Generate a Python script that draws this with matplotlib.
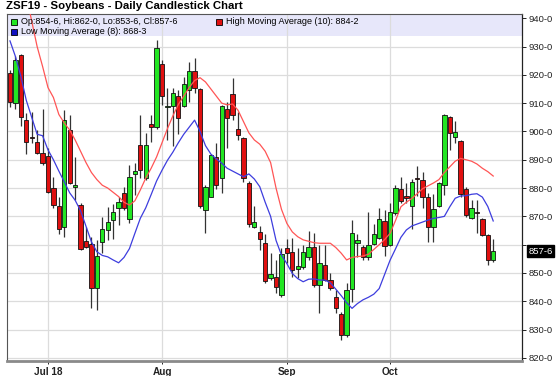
import numpy as np
import matplotlib.pyplot as plt
from matplotlib.lines import Line2D
import matplotlib.transforms as mtransforms

plt.rcParams['font.family'] = ['Liberation Sans', 'DejaVu Sans']

title = "ZSF19 - Soybeans - Daily Candlestick Chart"
month_labels = ["Jul 18", "Aug", "Sep", "Oct"]
month_idx = [7, 28, 51, 70]

opens = [920.6, 910, 927, 904.1, 897.9, 896.3, 892.3, 891.3, 879.9, 873.7,
         866.4, 900.5, 880.5, 874, 861.4, 860.1, 844.6, 861.1, 865.2, 868.7,
         872.9, 878.4, 869, 885, 895.2, 883.4, 902.5, 901.5, 923.7, 908.5,
         909, 912.5, 909, 914.7, 921.5, 914.9, 872.3, 877, 890.9, 883.5,
         907.8, 913.1, 900.9, 897.6, 881.9, 866.4, 864.6, 860.5, 848.1, 848.7,
         842.2, 858.7, 857.5, 851.3, 852, 855.8, 859.3, 845.8, 852.8, 847.4,
         841.4, 835.5, 828, 844.2, 860.7, 859.1, 855.8, 860.3, 862.3, 868.5,
         859.9, 871.1, 879.6, 877.2, 873.7, 883.3, 882.9, 876.7, 866.1, 873.7,
         881.1, 905.2, 897.9, 896.6, 879.6, 869.3, 871.2, 869.1, 863.4, 854.75]
highs = [921.7, 926.5, 927.5, 906.4, 907, 900.5, 907.8, 894, 884, 877,
         907.6, 905.8, 891.1, 874.6, 866.4, 862.8, 861.7, 869.9, 873.4, 874.5,
         877, 880.5, 888.2, 888.8, 905.9, 899.4, 905.9, 932.3, 925.3, 915.3,
         915.3, 914.7, 919.4, 924.7, 925.9, 915.5, 881.1, 892, 895.8, 909.4,
         910.5, 918.8, 907, 898.2, 882.5, 873.7, 866.6, 863.8, 857, 854.6,
         858.7, 861.9, 862.3, 858.7, 859.9, 865, 864, 859.9, 859.9, 850,
         843.9, 836.3, 846.6, 868.7, 863.8, 859.9, 871.7, 867.3, 872.9, 872.3,
         874.6, 881.1, 884, 881.7, 883.1, 887.8, 885.5, 878.2, 877.9, 882.3,
         906.2, 905.5, 903.8, 897, 880.5, 875.8, 875.8, 869.5, 863.6, 862]
lows = [908.5, 908, 902, 892.1, 895.8, 892, 888.2, 878.2, 872.9, 863.8,
        862.8, 881.5, 875.8, 858, 858.8, 837.5, 837, 857, 861.7, 862,
        867, 872.3, 867.6, 877.6, 883.5, 883, 896.4, 901, 909.4, 897,
        894.9, 899.1, 908.5, 910.5, 913.5, 872.9, 864, 876.8, 879.6, 878.2,
        894, 904.1, 897, 882.3, 866.4, 865.8, 858.1, 846.4, 847.5, 842.8,
        841.6, 853.4, 848.7, 848.1, 851.5, 854.6, 845.2, 835.8, 847, 844,
        835.8, 826.4, 827.5, 839.9, 855.8, 854.6, 854.6, 859.8, 862, 856,
        859.5, 870.6, 874.6, 874.6, 865.4, 877.2, 872.9, 861.1, 861.1, 873.2,
        877.6, 893.5, 895.8, 877, 869.9, 869, 864, 863, 852.8, 853.75]
closes = [910.5, 925.3, 905.2, 896.4, 897.7, 892.5, 888.8, 878.7, 874, 865.4,
          904.1, 881.9, 881.1, 858.4, 859.3, 844.6, 856.1, 865.4, 868.1, 871.7,
          875.2, 872.9, 883.8, 886.2, 886.4, 895.2, 901.4, 929.4, 912.5, 908.8,
          913.7, 904.9, 916.7, 921.5, 915.3, 873.7, 880.5, 891.7, 881.1, 909,
          904.9, 905.8, 898.8, 883.4, 867.3, 868.1, 861.9, 847, 849.5, 845.2,
          856.7, 857.2, 851, 852.5, 857.5, 859.3, 845.8, 853.7, 847.5, 844.6,
          837.5, 828, 844, 864.3, 861.7, 855.8, 859.9, 863.8, 869, 859.5,
          871.7, 879.9, 875.6, 876.4, 882.3, 883.1, 877, 866.1, 872.6, 881.7,
          905.8, 899.4, 899.7, 877.8, 870.5, 872.9, 871.1, 863.4, 854.6, 857.75]

# High Moving Average (10) and Low Moving Average (8)
hi_ma = [np.nan, np.nan, np.nan, 948, 939, 930, 923, 915.5, 912, 906,
         903, 900.5, 897, 893, 889, 885.5, 883, 881, 880, 878.5,
         877, 875, 874, 875.5, 879.3, 883.5, 887, 891, 896, 901,
         905.5, 909.5, 912.5, 915.5, 918, 919, 917.5, 915, 912.5, 910,
         909.4, 909.7, 907.5, 903.5, 899.5, 897, 895.5, 893, 889, 880,
         872.5, 867.5, 864.5, 862.8, 861.7, 861.2, 860.7, 860.5, 860.5, 860.5,
         859, 857, 854.6, 855.5, 855.8, 856, 856.6, 858.3, 860, 861.8,
         864, 868.5, 873.4, 875, 876.3, 878, 879.8, 880.8, 881.8, 883,
         885.5, 887.5, 889.5, 890.5, 890, 889.5, 888.5, 887, 885.8, 884.25]
lo_ma = [932, 926.5, 919.5, 911, 905, 899, 898.5, 893.5, 890, 886,
         882.2, 878.3, 875.7, 872, 866.5, 861, 857.5, 856.2, 855.7, 854.6,
         853.6, 855.5, 858.6, 864, 869.3, 873, 877.7, 882.5, 886.3, 889.8,
         892.7, 896, 899, 901.5, 904, 900, 895, 892, 890.3, 888.8,
         887, 886, 885, 884, 885, 883.2, 880.5, 875, 870, 861.5,
         856.3, 853.3, 849.8, 848, 846.9, 847.8, 847.9, 847.5, 847.5, 846.5,
         844.3, 842, 839.5, 837.5, 839.2, 840.5, 841.4, 842.5, 844.5, 849.5,
         854.5, 858.5, 862.6, 865.2, 866.6, 867.3, 868, 868.7, 869.3, 869.6,
         870, 873.4, 876.4, 877.2, 877.3, 877.8, 878, 876.8, 873.5, 868.375]


def fmt8(v):
    # prices in eighths: 857.75 -> 857-6
    whole = int(np.floor(v + 1e-9))
    return "{}-{}".format(whole, int(round((v - whole) * 8)))


o = np.array(opens)
h = np.array(highs)
l = np.array(lows)
c = np.array(closes)
x = np.arange(len(o))

fig = plt.figure(figsize=(5.58, 3.76), dpi=100)
W, H = 558.0, 376.0
ax = fig.add_axes([7 / W, 1 - 361 / H, (522 - 7) / W, (361 - 14) / H])

ax.set_xlim(-0.55, 94.3)
ax.set_ylim(818.9, 941.5)

# grid
for v in range(820, 941, 10):
    ax.axhline(v, color='#dcdcdc', lw=0.9, zorder=0)
for m in month_idx:
    ax.axvline(m, color='#dcdcdc', lw=0.9, zorder=0.6)

# legend band
band = plt.Rectangle((0, 1 - 22 / 347.0), 1, 22 / 347.0, transform=ax.transAxes,
                     facecolor='#e7e7fa', edgecolor='none', zorder=0.5)
ax.add_patch(band)

# candles
up = c >= o
ax.vlines(x, l, h, color='#333333', lw=0.9, zorder=2)
body_lo = np.minimum(o, c)
body_h = np.maximum(np.abs(c - o), 0.35)
ax.bar(x[up], body_h[up], bottom=body_lo[up], width=0.8, color='#22e622',
       edgecolor='#111111', linewidth=0.6, zorder=3)
ax.bar(x[~up], body_h[~up], bottom=body_lo[~up], width=0.8, color='#e01010',
       edgecolor='#111111', linewidth=0.6, zorder=3)

ax.plot(x, hi_ma, color='#ff5555', lw=0.9, zorder=4)
ax.plot(x, lo_ma, color='#3d3dde', lw=0.9, zorder=4)

# axes styling
for s in ['top', 'left']:
    ax.spines[s].set_color('#555555')
    ax.spines[s].set_linewidth(0.8)
ax.spines['right'].set_color('#222222')
ax.spines['right'].set_linewidth(0.9)
ax.spines['bottom'].set_color('#8a8a8a')
ax.spines['bottom'].set_linewidth(2.0)

yt = list(range(820, 941, 10))
ax.yaxis.tick_right()
ax.set_yticks(yt)
ax.set_yticklabels(['' if v == 860 else fmt8(v) for v in yt], fontsize=6.8)
ax.tick_params(axis='y', length=3, width=0.7, pad=1.5, colors='#222222')
ax.set_xticks(month_idx)
ax.set_xticklabels(month_labels, fontsize=7.2, fontweight='bold')
ax.tick_params(axis='x', length=2.5, width=0.7, pad=2, colors='#222222')

# last price tag
tr = mtransforms.blended_transform_factory(ax.transAxes, ax.transData)
ax.text(1.012, c[-1], fmt8(c[-1]), transform=tr, fontsize=6.8, color='white',
        va='center', ha='left',
        bbox=dict(boxstyle='square,pad=0.12', facecolor='black', edgecolor='black'))

# title and legend
fig.text(6 / W, 1 - 6 / H, title, fontsize=8.2, fontweight='bold', va='center', ha='left')


def legend_item(px, py, color, label):
    fig.add_artist(Line2D([px / W], [1 - py / H], marker='s', markersize=4.2,
                          markerfacecolor=color, markeredgecolor='black',
                          markeredgewidth=0.6, transform=fig.transFigure))
    fig.text((px + 7) / W, 1 - py / H, label, fontsize=6.5, va='center', ha='left')


legend_item(14, 21.5, '#22e622', "Op:{}, Hi:{}, Lo:{}, Cl:{}".format(
    fmt8(o[-1]), fmt8(h[-1]), fmt8(l[-1]), fmt8(c[-1])))
legend_item(219, 21.5, '#e01010', "High Moving Average (10): {}".format(fmt8(hi_ma[-1])))
legend_item(14, 31.5, '#1010c0', "Low Moving Average (8): {}".format(fmt8(lo_ma[-1])))

fig.savefig('out.png', dpi=100)
